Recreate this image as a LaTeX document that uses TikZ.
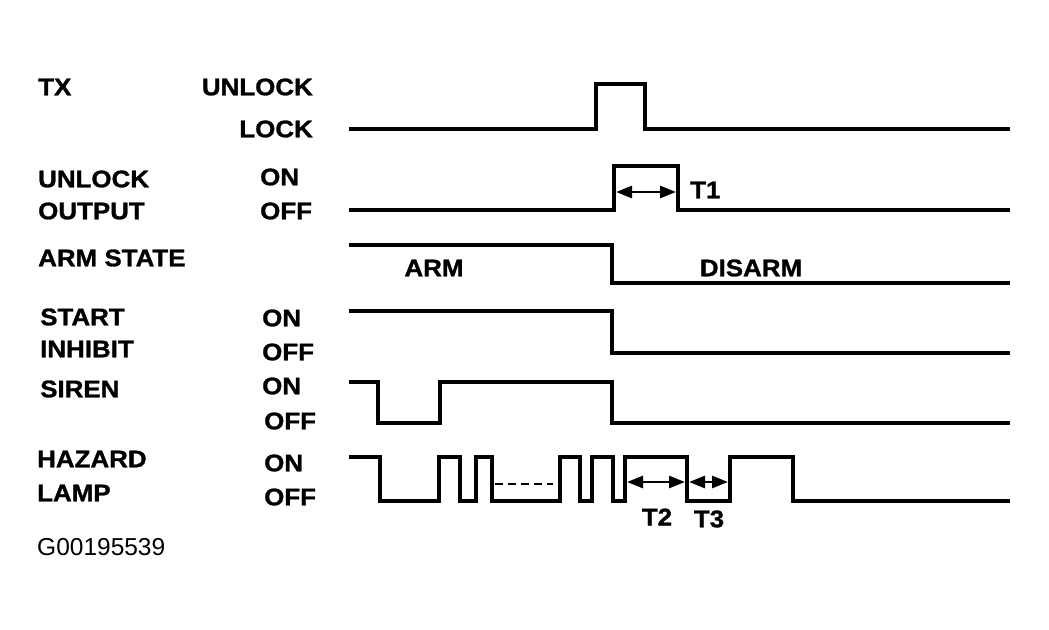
\documentclass[tikz,border=0pt]{standalone}
\usepackage{fontspec}
\setmainfont{Liberation Sans}[BoldFeatures={FakeStretch=1.08,FakeBold=1.2}]
\usetikzlibrary{arrows.meta}
\begin{document}
\begin{tikzpicture}[x=1pt,y=-1pt,
  lbl/.style={font=\fontsize{24}{28}\selectfont\bfseries, inner sep=0pt},
  sig/.style={line width=3.8pt, line join=miter},
  dim/.style={line width=2.8pt, {Triangle[length=16pt,width=12pt]}-{Triangle[length=16pt,width=12pt]}},
]
\useasboundingbox[fill=white] (0,0) rectangle (1049,629);
% labels
\node[lbl, anchor=west] (tx) at (38,87) {TX};
\node[lbl, anchor=east] (txu) at (313,87) {UNLOCK};
\node[lbl, anchor=east] (txl) at (313,129) {LOCK};
\node[lbl, anchor=west] (uo1) at (38,179) {UNLOCK};
\node[lbl, anchor=west] (uo2) at (38,211) {OUTPUT};
\node[lbl, anchor=west] (uon) at (260,177) {ON};
\node[lbl, anchor=west] (uoff) at (260,211) {OFF};
\node[lbl, anchor=west] (arm) at (38,258) {ARM STATE};
\node[lbl, anchor=west] (si1) at (40,317) {START};
\node[lbl, anchor=west] (si2) at (40,349) {INHIBIT};
\node[lbl, anchor=west] (sion) at (262,318) {ON};
\node[lbl, anchor=west] (sioff) at (262,352) {OFF};
\node[lbl, anchor=west] (sir) at (40,389) {SIREN};
\node[lbl, anchor=west] (siron) at (262,386) {ON};
\node[lbl, anchor=west] (siroff) at (264,421) {OFF};
\node[lbl, anchor=west] (hz1) at (37,459) {HAZARD};
\node[lbl, anchor=west] (hz2) at (37,493) {LAMP};
\node[lbl, anchor=west] (hzon) at (264,463) {ON};
\node[lbl, anchor=west] (hzoff) at (264,497) {OFF};
\node[anchor=west, inner sep=0pt, font=\fontsize{24.5}{28}\selectfont] (code) at (37,547) {G00195539};
\node[lbl] (armt) at (434,268) {ARM};
\node[lbl] (disarmt) at (751,268) {DISARM};
\node[lbl, anchor=west] (t1) at (690,190) {T1};
\node[lbl] (t2) at (657,517) {T2};
\node[lbl] (t3) at (709,519) {T3};
% waveforms
\draw[sig] (349,129) -- (596,129) -- (596,84) -- (645,84) -- (645,129) -- (1010,129);
\draw[sig] (349,210) -- (614,210) -- (614,166) -- (678,166) -- (678,210) -- (1010,210);
\draw[sig] (349,245) -- (612,245) -- (612,283) -- (1010,283);
\draw[sig] (349,311) -- (612,311) -- (612,353) -- (1010,353);
\draw[sig] (349,382) -- (378,382) -- (378,423) -- (440,423) -- (440,382) -- (612,382) -- (612,423) -- (1010,423);
\draw[sig] (349,457) -- (380,457) -- (380,501) -- (439,501) -- (439,457) -- (460,457) -- (460,501)
  -- (476,501) -- (476,457) -- (492,457) -- (492,501) -- (560,501) -- (560,457) -- (580,457)
  -- (580,501) -- (592,501) -- (592,457) -- (613,457) -- (613,501) -- (625,501) -- (625,457)
  -- (687,457) -- (687,501) -- (730,501) -- (730,457) -- (793,457) -- (793,501) -- (1010,501);
\draw[line width=2.6pt, dash pattern=on 8pt off 5pt] (495,484) -- (553,484);
% timing arrows
\coordinate (a1) at (616,192);
\coordinate (b1) at (676,192);
\coordinate (a2) at (627,482);
\coordinate (b2) at (685,482);
\coordinate (a3) at (689,482);
\coordinate (b3) at (728,482);
\draw[dim] (a1) -- (b1);
\draw[dim] (a2) -- (b2);
\draw[dim] (a3) -- (b3);
\end{tikzpicture}
\end{document}
